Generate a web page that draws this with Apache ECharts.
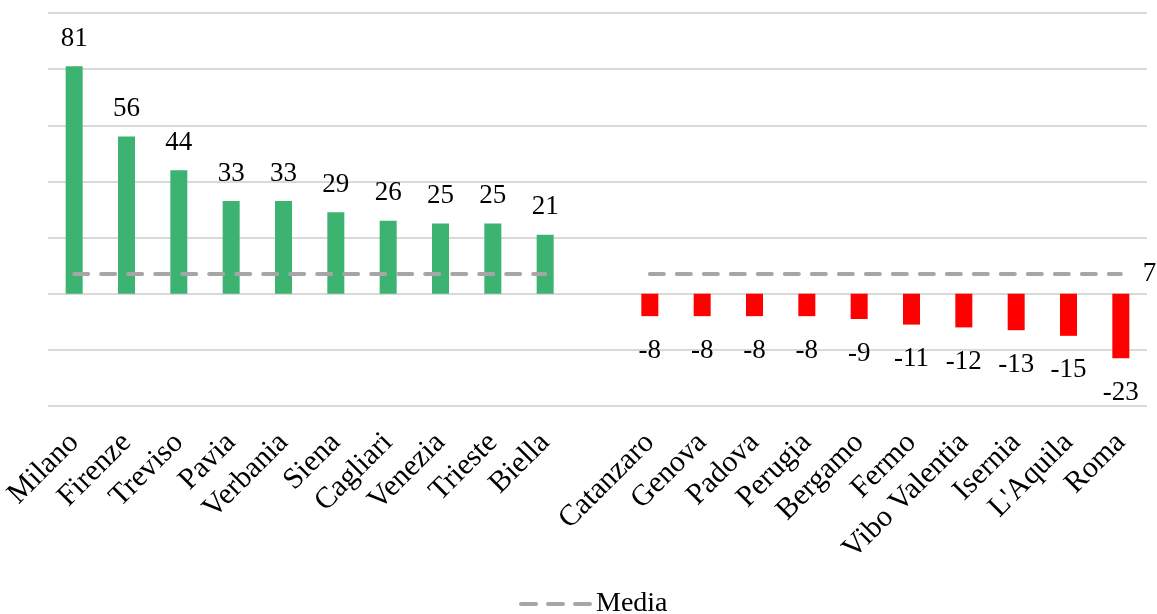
<!DOCTYPE html>
<html>
<head>
<meta charset="utf-8">
<script src="https://cdn.jsdelivr.net/npm/echarts@6/dist/echarts.min.js"></script>
<style>
  html, body { margin: 0; padding: 0; background: #fff; }
  #myChart { width: 1157px; height: 614px; }
</style>
</head>
<body>
<div id="myChart"></div>
<script>
// città sopra zero e sotto zero
var posCities = ['Milano', 'Firenze', 'Treviso', 'Pavia', 'Verbania', 'Siena', 'Cagliari', 'Venezia', 'Trieste', 'Biella'];
var posValues = [81, 56, 44, 33, 33, 29, 26, 25, 25, 21];
var negCities = ['Catanzaro', 'Genova', 'Padova', 'Perugia', 'Bergamo', 'Fermo', 'Vibo Valentia', 'Isernia', "L'Aquila", 'Roma'];
var negValues = [-8, -8, -8, -8, -9, -11, -12, -13, -15, -23];
var mediaValue = 7;

document.addEventListener('DOMContentLoaded', () => {
    var myChart = echarts.init(document.getElementById('myChart'));
    var font = 'Liberation Serif';
    var fs = 27;

    // categorie con uno spazio vuoto tra i due gruppi
    var categories = posCities.concat(['']).concat(negCities);
    var posData = posValues.concat(['-']).concat(negCities.map(() => '-'));
    var negData = posCities.map(() => '-').concat(['-']).concat(negValues);
    var mediaData = posCities.map(() => mediaValue).concat(['-']).concat(negCities.map(() => mediaValue));

    var labelStyle = { show: true, color: '#000', fontFamily: font, fontSize: fs };

    myChart.setOption({
        animation: false,
        textStyle: { fontFamily: font },
        grid: { left: 48, right: 10, top: 13, bottom: 208 },
        legend: {
            data: ['Media'],
            bottom: -9,
            left: 514,
            itemWidth: 70,
            itemHeight: 14,
            itemGap: 4,
            itemStyle: { opacity: 0 },
            lineStyle: { color: '#a6a6a6', width: 4, type: [15, 12], cap: 'round' },
            textStyle: { color: '#000', fontFamily: font, fontSize: 28 }
        },
        xAxis: {
            type: 'category',
            data: categories,
            axisLine: { show: false },
            axisTick: { show: false },
            axisLabel: {
                rotate: 45,
                interval: 0,
                margin: 32,
                color: '#000',
                fontFamily: font,
                fontSize: 30
            }
        },
        yAxis: {
            type: 'value',
            min: -40,
            max: 100,
            interval: 20,
            axisLabel: { show: false },
            axisLine: { show: false },
            axisTick: { show: false },
            splitLine: { lineStyle: { color: '#d9d9d9', width: 2 } }
        },
        series: [
            {
                name: 'Positivi',
                type: 'bar',
                data: posData,
                barWidth: 17,
                barGap: '-100%',
                itemStyle: { color: '#3cb371' },
                label: Object.assign({}, labelStyle, { position: 'top', distance: 14 })
            },
            {
                name: 'Negativi',
                type: 'bar',
                data: negData,
                barWidth: 17,
                itemStyle: { color: '#ff0000' },
                label: Object.assign({}, labelStyle, { position: 'bottom', distance: 21 })
            },
            {
                name: 'Media',
                type: 'line',
                data: mediaData,
                symbol: 'none',
                lineStyle: { color: '#a6a6a6', width: 4, type: [14, 13], cap: 'round' },
                endLabel: {
                    show: true,
                    formatter: String(mediaValue),
                    distance: 22,
                    color: '#000',
                    fontFamily: font,
                    fontSize: fs
                },
                z: 5
            }
        ]
    });
});
</script>
</body>
</html>
